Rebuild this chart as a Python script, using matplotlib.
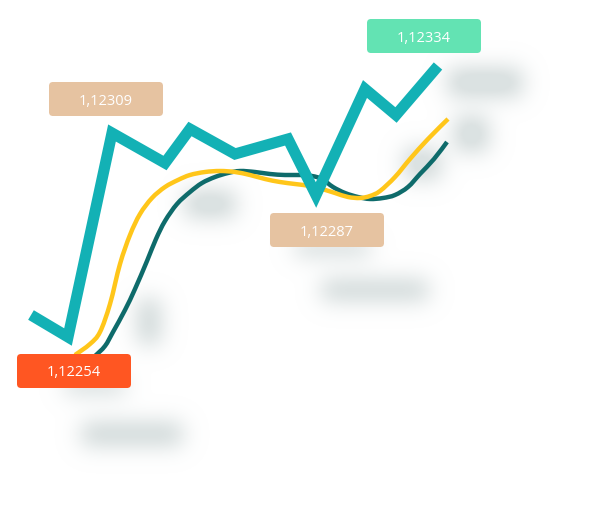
import numpy as np
import matplotlib.pyplot as plt
from matplotlib.path import Path
from matplotlib.patches import FancyBboxPatch, PathPatch

# price line (thick teal), x/y in picture units
price_x = [31, 68, 112, 165, 190, 235, 288, 316, 365, 396, 438]
price_y = [316, 338, 134, 164, 130, 155, 140, 196, 90, 116, 67]

# fast average (yellow)
fast_x = [75, 90, 100, 110, 120, 130, 140, 152, 165, 178, 190, 205, 220, 235, 250, 265,
          280, 295, 310, 322, 335, 348, 360, 370, 380, 395, 410, 428, 448]
fast_y = [356, 345, 333, 305, 265, 236, 215, 199, 188, 181, 176, 173, 172, 173, 176, 180,
          183, 185, 187, 190, 194, 198, 199, 197, 192, 178, 160, 140, 120]

# slow average (dark teal)
slow_x = [95, 105, 113, 125, 135, 147, 156, 165, 177, 190, 202, 215, 228, 240, 255, 270,
          285, 300, 312, 322, 333, 345, 358, 370, 383, 395, 408, 420, 434, 447]
slow_y = [357, 347, 333, 311, 290, 262, 240, 222, 205, 193, 184, 178, 174, 172, 173, 175,
          176, 176, 177, 180, 188, 194, 198, 200, 199, 196, 188, 175, 160, 143]

# value tags: text, centre x, centre y, colour
tag_text = ["1,12334", "1,12309", "1,12287", "1,12254"]
tag_x = [424, 106, 327, 74]
tag_y = [37, 100, 231, 372]
tag_color = ["#63E3B3", "#E6C3A1", "#E6C3A1", "#FF5622"]

# soft shadow blobs: x0, y0, x1, y1
shadow_boxes = [(82, 424, 182, 446), (322, 281, 428, 301), (448, 70, 522, 97),
                (185, 192, 235, 218), (455, 118, 488, 152), (138, 300, 160, 345),
                (65, 380, 125, 394), (295, 242, 370, 256), (405, 150, 440, 180)]

W, H = 600, 506


def blur(img, sigma):
    r = int(sigma * 3)
    k = np.exp(-0.5 * (np.arange(-r, r + 1) / sigma) ** 2)
    k /= k.sum()
    img = np.apply_along_axis(lambda v: np.convolve(v, k, mode="same"), 0, img)
    img = np.apply_along_axis(lambda v: np.convolve(v, k, mode="same"), 1, img)
    return img


def smooth_path(xs, ys):
    # Catmull-Rom through the read points, drawn as cubic Bezier segments
    p = np.column_stack([xs, ys]).astype(float)
    p = np.vstack([p[0], p, p[-1]])
    verts = [p[1]]
    codes = [Path.MOVETO]
    for i in range(1, len(p) - 2):
        c1 = p[i] + (p[i + 1] - p[i - 1]) / 6
        c2 = p[i + 1] - (p[i + 2] - p[i]) / 6
        verts += [c1, c2, p[i + 1]]
        codes += [Path.CURVE4] * 3
    return Path(verts, codes)


fig = plt.figure(figsize=(6, 5.06), dpi=100)
ax = fig.add_axes([0, 0, 1, 1])
ax.set_xlim(0, W)
ax.set_ylim(H, 0)
ax.axis("off")

mask = np.zeros((H, W))
for x0, y0, x1, y1 in shadow_boxes:
    mask[y0:y1, x0:x1] = 1.0
mask = np.clip(blur(mask, 11) * 1.5, 0, 1)
rgba = np.zeros((H, W, 4))
rgba[..., 0] = 0.83
rgba[..., 1] = 0.86
rgba[..., 2] = 0.86
rgba[..., 3] = mask * 0.8
ax.imshow(rgba, extent=(0, W, H, 0), zorder=0, interpolation="bilinear")

ax.add_patch(PathPatch(smooth_path(slow_x, slow_y), fc="none", ec="#0E6B6B",
                       lw=3.2, capstyle="butt", zorder=2))
ax.add_patch(PathPatch(smooth_path(fast_x, fast_y), fc="none", ec="#FFC61A",
                       lw=3.2, capstyle="butt", zorder=3))
ax.plot(price_x, price_y, color="#13B1B5", lw=8, solid_joinstyle="miter",
        solid_capstyle="butt", zorder=4)

bw, bh = 114, 34
for text, cx, cy, col in zip(tag_text, tag_x, tag_y, tag_color):
    box = FancyBboxPatch((cx - bw / 2 + 4, cy - bh / 2 + 4), bw - 8, bh - 8,
                         boxstyle="round,pad=4", fc=col, ec="none", zorder=5)
    ax.add_patch(box)
    ax.text(cx, cy + 1, text, color="white", fontsize=10.5, family="Open Sans",
            ha="center", va="center", zorder=6)

fig.savefig("out.png", dpi=100)
